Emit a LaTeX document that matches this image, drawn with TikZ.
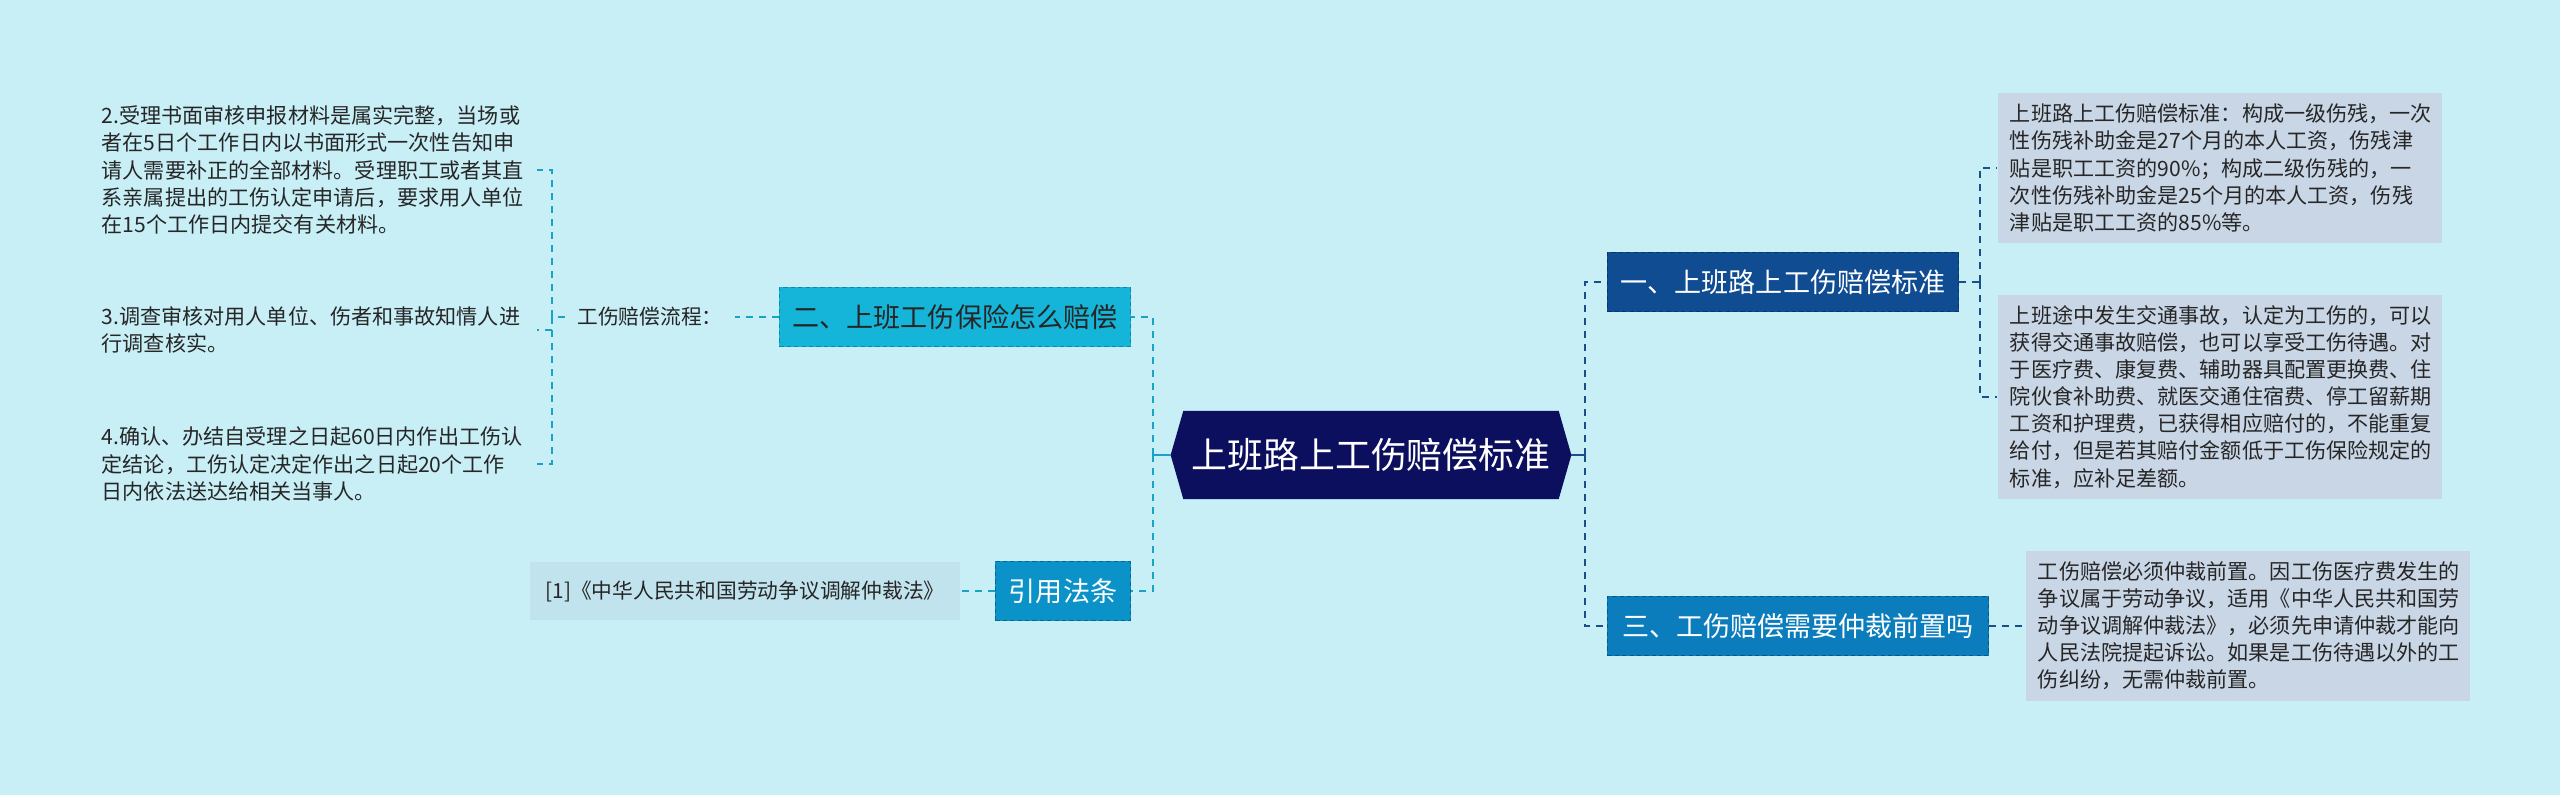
\documentclass[tikz,border=0pt]{standalone}
\usepackage{fontspec}
\setmainfont{Noto Sans CJK SC}
\usepackage{tikz}
\usetikzlibrary{shapes.symbols, positioning, calc}
\definecolor{bg_cyan}{HTML}{C8EEF6}
\definecolor{root_navy}{HTML}{0C0F5E}
\definecolor{b1_blue}{HTML}{0F4C92}
\definecolor{b3_blue}{HTML}{0B7DBC}
\definecolor{b2_cyan}{HTML}{14B5D8}
\definecolor{b4_blue}{HTML}{0B93C9}
\definecolor{leaf_gray}{HTML}{C9D6E6}
\definecolor{cite_fill}{HTML}{C1E3EE}
\definecolor{txt_dark}{HTML}{262626}
\definecolor{line_right}{HTML}{1B4F8A}
\definecolor{line_left}{HTML}{1AA3C4}
\tikzset{
    root_hex/.style={
        signal, signal to=west and east, signal pointer angle=148,
        fill=root_navy, draw=root_navy, text=white, inner xsep=1pt,
        minimum width=3.99cm, minimum height=0.87cm,
        font=\fontsize{10.2}{12}\selectfont
    },
    branch_box/.style={
        rectangle, line width=0.45pt, dash pattern=on 1.2pt off 0.9pt,
        minimum height=0.59cm, inner xsep=0.1cm,
        font=\fontsize{7.7}{9}\selectfont
    },
    leaf_right/.style={
        rectangle, fill=leaf_gray, text=txt_dark, align=left,
        text width=4.2cm, inner xsep=0.12cm, inner ysep=0.11cm,
        font=\fontsize{6}{7.7}\selectfont
    },
    leaf_left/.style={
        rectangle, text=txt_dark, align=left, anchor=west,
        text width=4.3cm, inner sep=0.04cm,
        font=\fontsize{6}{7.7}\selectfont
    },
    link_r/.style={draw=line_right, line width=0.6pt, dash pattern=on 2pt off 1.7pt},
    link_l/.style={draw=line_left, line width=0.6pt, dash pattern=on 2pt off 1.7pt}
}

\begin{document}
\begin{tikzpicture}[x=0.01cm, y=-0.01cm]
    \fill[bg_cyan] (0,0) rectangle (2560,795);
    \useasboundingbox (0,0) rectangle (2560,795);

    % Root
    \node[root_hex] (root) at (1371,455) {上班路上工伤赔偿标准};

    % Right branches
    \node[branch_box, fill=b1_blue, draw=b1_blue!70!black, text=white, minimum width=3.51cm] (std) at (1783,282) {一、上班路上工伤赔偿标准};
    \node[branch_box, fill=b3_blue, draw=b3_blue!70!black, text=white, minimum width=3.81cm] (arb) at (1798,626) {三、工伤赔偿需要仲裁前置吗};

    % Left branches
    \node[branch_box, fill=b2_cyan, draw=b2_cyan!75!black, text=txt_dark, minimum width=3.51cm] (howpay) at (955,317) {二、上班工伤保险怎么赔偿};
    \node[branch_box, fill=b4_blue, draw=b4_blue!70!black, text=white, minimum width=1.35cm] (cites) at (1063,591) {引用法条};

    % Right leaves
    \node[leaf_right] (std_a) at (2220,168) {上班路上工伤赔偿标准：构成一级伤残，一次\\性伤残补助金是27个月的本人工资，伤残津\\贴是职工工资的90\%；构成二级伤残的，一\\次性伤残补助金是25个月的本人工资，伤残\\津贴是职工工资的85\%等。};
    \node[leaf_right] (std_b) at (2220,397) {上班途中发生交通事故，认定为工伤的，可以\\获得交通事故赔偿，也可以享受工伤待遇。对\\于医疗费、康复费、辅助器具配置更换费、住\\院伙食补助费、就医交通住宿费、停工留薪期\\工资和护理费，已获得相应赔付的，不能重复\\给付，但是若其赔付金额低于工伤保险规定的\\标准，应补足差额。};
    \node[leaf_right] (arb_a) at (2248,626) {工伤赔偿必须仲裁前置。因工伤医疗费发生的\\争议属于劳动争议，适用《中华人民共和国劳\\动争议调解仲裁法》，必须先申请仲裁才能向\\人民法院提起诉讼。如果是工伤待遇以外的工\\伤纠纷，无需仲裁前置。};

    % Left leaves
    \node[font=\fontsize{5.9}{7}\selectfont, text=txt_dark] (flow) at (650,317) {工伤赔偿流程：};
    \node[leaf_left] (step2) at (97,170) {2.受理书面审核申报材料是属实完整，当场或\\者在5日个工作日内以书面形式一次性告知申\\请人需要补正的全部材料。受理职工或者其直\\系亲属提出的工伤认定申请后，要求用人单位\\在15个工作日内提交有关材料。};
    \node[leaf_left] (step3) at (97,330) {3.调查审核对用人单位、伤者和事故知情人进\\行调查核实。};
    \node[leaf_left] (step4) at (97,464) {4.确认、办结自受理之日起60日内作出工伤认\\定结论，工伤认定决定作出之日起20个工作\\日内依法送达给相关当事人。};
    \node[fill=cite_fill, text=txt_dark, minimum width=4.29cm, minimum height=0.58cm, font=\fontsize{5.9}{7}\selectfont] (law) at (745,591) {[1]《中华人民共和国劳动争议调解仲裁法》};

    % Bus points
    \coordinate (rbus) at (1585,455);
    \coordinate (lbus) at (1153,455);
    \coordinate (stdbus) at (1980,282);
    \coordinate (flowbus) at (552,317);

    % Connectors
    \draw[draw=line_right, line width=0.6pt] (root.east) -- (rbus);
    \draw[link_r] (rbus) |- (std.west);
    \draw[link_r] (rbus) |- (arb.west);
    \draw[link_r] (std.east) -- (stdbus);
    \draw[link_r] (stdbus) |- (std_a.west);
    \draw[link_r] (stdbus) |- (std_b.west);
    \draw[link_r] (arb.east) -- (arb_a.west);

    \draw[draw=line_left, line width=0.6pt] (root.west) -- (lbus);
    \draw[link_l] (lbus) |- (howpay.east);
    \draw[link_l] (lbus) |- (cites.east);
    \draw[link_l] (howpay.west) -- (flow.east);
    \draw[link_l] (flow.west) -- (flowbus);
    \draw[link_l] (flowbus) |- (step2.east);
    \draw[link_l] (flowbus) |- (step3.east);
    \draw[link_l] (flowbus) |- (step4.east);
    \draw[link_l] (cites.west) -- (law.east);
\end{tikzpicture}
\end{document}
